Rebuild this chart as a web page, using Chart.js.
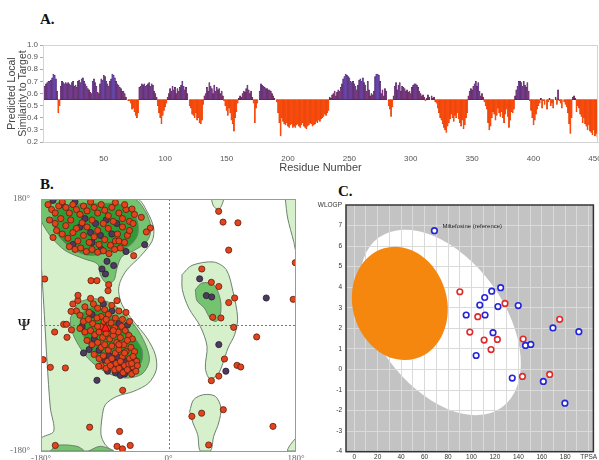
<!DOCTYPE html>
<html><head><meta charset="utf-8">
<script src="https://cdn.jsdelivr.net/npm/chart.js@4.4.0/dist/chart.umd.min.js"></script>
<style>
html,body{margin:0;padding:0;background:#fff;width:599px;height:460px;overflow:hidden;position:relative;}
canvas{position:absolute;}
.lbl{position:absolute;font-family:'Liberation Serif','DejaVu Serif',serif;font-weight:bold;font-size:15px;line-height:15px;color:#111;}
</style></head><body>
<div class="lbl" style="left:40px;top:12px">A.</div>
<div class="lbl" style="left:40px;top:177px">B.</div>
<div class="lbl" style="left:338px;top:184px;font-size:15px;line-height:15px">C.</div>
<canvas id="cA" width="599" height="145" style="left:0;top:30px"></canvas>
<canvas id="cB" width="310" height="285" style="left:0;top:175px"></canvas>
<canvas id="cC" width="289" height="285" style="left:310px;top:175px"></canvas>
<script>
// ---------------- Panel A data ----------------
const simScores = [
0.62,0.66,0.68,0.69,0.70,0.70,0.71,0.73,0.76,0.75,
0.72,0.62,0.44,0.50,0.66,0.70,0.69,0.68,0.69,0.68,
0.69,0.68,0.67,0.69,0.70,0.66,0.67,0.65,0.70,0.71,
0.69,0.72,0.73,0.70,0.68,0.66,0.64,0.63,0.61,0.60,
0.70,0.72,0.69,0.66,0.61,0.60,0.68,0.72,0.71,0.75,
0.74,0.70,0.68,0.66,0.70,0.72,0.76,0.75,0.73,0.70,
0.68,0.67,0.65,0.64,0.62,0.62,0.60,0.57,0.55,0.54,
0.54,0.52,0.47,0.48,0.45,0.42,0.40,0.44,0.65,0.66,
0.68,0.67,0.68,0.66,0.67,0.68,0.69,0.66,0.68,0.67,
0.62,0.60,0.57,0.50,0.44,0.40,0.35,0.42,0.46,0.49,
0.52,0.57,0.60,0.64,0.62,0.66,0.63,0.65,0.60,0.64,
0.62,0.65,0.67,0.70,0.66,0.63,0.65,0.60,0.55,0.50,
0.48,0.43,0.42,0.40,0.44,0.38,0.40,0.36,0.35,0.38,
0.51,0.58,0.60,0.65,0.62,0.69,0.66,0.64,0.60,0.67,
0.62,0.65,0.63,0.64,0.60,0.62,0.58,0.54,0.50,0.46,
0.42,0.48,0.44,0.38,0.35,0.29,0.40,0.45,0.52,0.56,
0.58,0.57,0.60,0.62,0.61,0.64,0.67,0.63,0.60,0.62,
0.57,0.52,0.36,0.48,0.52,0.55,0.62,0.68,0.67,0.66,
0.65,0.64,0.64,0.63,0.63,0.62,0.60,0.58,0.56,0.55,
0.53,0.44,0.36,0.25,0.40,0.37,0.35,0.34,0.36,0.33,
0.32,0.34,0.35,0.32,0.33,0.32,0.34,0.35,0.33,0.32,
0.34,0.36,0.33,0.32,0.31,0.33,0.34,0.36,0.35,0.33,
0.34,0.35,0.37,0.36,0.38,0.37,0.39,0.40,0.41,0.43,
0.42,0.44,0.46,0.57,0.56,0.59,0.60,0.62,0.58,0.61,
0.63,0.62,0.65,0.68,0.72,0.74,0.76,0.75,0.74,0.73,
0.70,0.69,0.70,0.68,0.66,0.63,0.67,0.71,0.72,0.70,
0.73,0.69,0.67,0.62,0.70,0.63,0.58,0.60,0.59,0.62,
0.74,0.76,0.76,0.75,0.70,0.60,0.63,0.58,0.64,0.62,
0.55,0.50,0.47,0.41,0.49,0.58,0.66,0.69,0.63,0.67,
0.69,0.62,0.66,0.65,0.64,0.62,0.63,0.61,0.62,0.60,
0.65,0.67,0.68,0.68,0.67,0.65,0.62,0.60,0.58,0.59,
0.57,0.54,0.56,0.59,0.57,0.55,0.58,0.56,0.57,0.53,
0.52,0.48,0.44,0.40,0.38,0.35,0.32,0.30,0.28,0.33,
0.36,0.39,0.43,0.40,0.37,0.42,0.40,0.44,0.39,0.36,
0.33,0.38,0.31,0.34,0.40,0.44,0.58,0.62,0.64,0.63,
0.66,0.68,0.70,0.66,0.69,0.62,0.58,0.60,0.57,0.53,
0.50,0.47,0.36,0.30,0.33,0.40,0.45,0.43,0.38,0.42,
0.48,0.44,0.41,0.45,0.40,0.36,0.43,0.47,0.41,0.32,
0.38,0.45,0.44,0.47,0.58,0.63,0.66,0.70,0.70,0.69,
0.66,0.70,0.67,0.65,0.69,0.62,0.54,0.46,0.40,0.34,
0.38,0.43,0.47,0.50,0.52,0.56,0.48,0.54,0.51,0.55,
0.47,0.53,0.56,0.50,0.52,0.48,0.55,0.57,0.51,0.63,
0.54,0.52,0.48,0.55,0.53,0.51,0.49,0.44,0.35,0.27,
0.40,0.57,0.58,0.56,0.45,0.50,0.48,0.43,0.41,0.36,
0.40,0.35,0.33,0.30,0.34,0.29,0.28,0.26,0.30,0.25,
0.27,0.24
];
const residues = simScores.map((_, i) => i + 1);
const baselineA = 0.55;
const xTickStepA = 50;

// ---------------- Panel B data (phi, psi) ----------------
const regionLight = [[-180,180],[-44.5,180],[-30.4,162.4],[-20.9,138.6],[-23.3,119.5],[-39.8,98.1],[-58.6,79],[-68,62.4],[-70.4,48.1],[-65.6,29],[-49.2,5.2],[-30.4,-18.6],[-18.6,-42.4],[-17.2,-63.8],[-28,-82.9],[-49.2,-94.8],[-72.7,-101.9],[-89.2,-113.8],[-93.9,-132.9],[-95.3,-156.7],[-90,-170],[-82,-180],[-180,-180],[-180,-162],[-162.1,-151.9],[-166.8,-118.6],[-171.5,-51.9],[-175.3,14.8],[-179,76.7],[-180,88.6],[-180,180]];
const regionLightRight = [[19.1,71.9],[33.2,85.2],[63.8,90],[81.6,79],[91,48.1],[97.6,10],[93.4,-13.8],[84,-32.9],[76.9,-54.3],[69.4,-71],[58.1,-76.7],[52,-61.4],[54.4,-30.5],[44.9,-1.9],[28.5,24.3],[19.5,50.5],[19.1,71.9]];
const regionLightLow = [[29.9,-123.3],[35.5,-106.7],[49.6,-99.5],[66.1,-101.9],[74.1,-118.6],[70.8,-140],[63.8,-159],[59.1,-180],[44.9,-180],[41.2,-156.7],[34.6,-140],[29.9,-123.3]];
const regionLightTop = [[60.5,180],[63.8,169.5],[70.8,164.8],[75.5,171.9],[77,180],[60.5,180]];
const regionLightCornerTR = [[164.9,180],[168.2,152.9],[176.7,119.5],[180,105.2],[180,180],[164.9,180]];
const regionLightCornerBR = [[180,-161.4],[172,-171],[168.2,-180],[180,-180],[180,-161.4]];
const regionMidTop = [[-180,150],[-180,180],[-49,180],[-32.7,162.4],[-24.7,138.6],[-30.4,119.5],[-49.2,106.2],[-65.6,98.1],[-72.7,81.4],[-77.4,63.3],[-87.8,60],[-96.2,71.9],[-100,87.1],[-119.8,94.8],[-145.6,106.2],[-164.5,124.3],[-177.2,143.3],[-180,150]];
const regionMidAlpha = [[-138.6,10],[-126.8,31.4],[-105.6,37.6],[-82.1,31.4],[-60.9,14.8],[-42.1,-9],[-30.4,-32.9],[-27.1,-51.9],[-37.4,-70],[-60.9,-75.7],[-89.2,-67.1],[-114.1,-47.1],[-130.1,-23.3],[-137.6,-4.3],[-138.6,10]];
const regionMidRight = [[37.9,50.5],[47.3,60],[63.8,57.6],[73.2,36.2],[73.2,14.8],[67.5,5.2],[59.1,9],[50.6,24.3],[40.2,34.8],[37.9,50.5]];
const regionMidBottom1 = [[-166.8,-180],[-157.4,-171.9],[-129.2,-173.3],[-119.8,-180],[-166.8,-180]];
const regionMidBottom2 = [[-112.7,-180],[-96.2,-173.3],[-77.4,-180],[-112.7,-180]];
const regionCoreBeta = [[-162.1,162.4],[-143.3,171],[-96.2,173.8],[-63.3,171],[-45.4,152.9],[-43.5,129],[-56.2,112.4],[-82.1,104.3],[-112.7,99.5],[-136.2,109],[-156.5,129],[-163.5,148.1],[-162.1,162.4]];
const regionCoreAlpha = [[-124.1,14.8],[-111.4,24.3],[-93.5,23.3],[-72.7,9],[-51.5,-13.8],[-37.4,-35.2],[-38.8,-54.3],[-52.9,-63.8],[-77.4,-61.4],[-100,-44.8],[-114.1,-25.7],[-124.1,-6.7],[-124.1,14.8]];

const residuesGeneral = [
// beta region
[-170,172],[-165,165],[-160,160],[-155,170],[-150,176],[-145,168],[-140,160],[-135,172],[-130,165],[-125,158],[-120,170],[-115,163],[-110,176],[-105,168],[-100,160],[-95,172],[-90,164],[-85,156],[-80,168],[-75,175],[-70,160],[-65,152],[-60,165],[-55,148],[-168,150],[-160,145],[-152,152],[-145,142],[-138,150],[-130,138],[-122,146],[-115,140],[-108,150],[-100,135],[-92,145],[-85,138],[-78,148],[-72,130],[-65,140],[-58,128],[-150,130],[-142,124],[-135,132],[-128,120],[-120,128],[-112,118],[-105,126],[-98,115],[-90,122],[-82,114],[-75,120],[-68,110],[-140,112],[-132,108],[-124,110],[-116,105],[-108,108],[-100,104],[-92,106],[-84,102],[-76,108],[-70,120],[-62,118],[-55,135],[-50,145],[-48,158],[-158,135],[-163,125],
// alpha region
[-130,20],[-125,14],[-118,26],[-112,18],[-106,30],[-100,24],[-95,12],[-90,22],[-85,15],[-80,28],[-75,10],[-70,20],[-65,8],[-60,18],[-55,5],[-120,5],[-113,8],[-107,2],[-101,10],[-96,-2],[-91,5],[-86,-5],[-81,3],[-76,-4],[-71,-10],[-66,-2],[-61,-8],[-56,-15],[-51,-20],[-125,-5],[-118,-10],[-110,-8],[-104,-14],[-98,-10],[-93,-18],[-88,-12],[-83,-20],[-78,-15],[-73,-25],[-68,-18],[-63,-28],[-58,-22],[-53,-32],[-48,-38],[-115,-22],[-108,-28],[-100,-25],[-95,-32],[-90,-28],[-85,-36],[-80,-30],[-75,-40],[-70,-35],[-65,-45],[-60,-38],[-55,-48],[-50,-45],[-45,-52],[-105,-42],[-98,-48],[-92,-44],[-86,-52],[-80,-48],[-74,-55],[-68,-52],[-62,-58],[-56,-56],[-50,-60],[-44,-58],[-95,-58],[-88,-62],[-82,-58],[-76,-64],[-70,-62],[-64,-68],[-58,-64],[-52,-70],[-46,-66],[-135,30],[-128,35],[-110,38],[-95,36],[-100,-2],[-88,8],[-78,-8],[-70,-28],[-62,-40],[-52,-55],
// scattered
[70.8,162.4],[77,147],[98,146],[85,107],[179,89],[47,80],[60.5,61],[71,55],[85,32],[93.4,38.6],[176,36.7],[62.4,11],[74,10],[92,-3.3],[124.5,-17],[79,-48.6],[96.7,-57.6],[102,-60],[71,-73],[60.5,-79.5],[77.4,-121],[46.8,-126],[33,-130.5],[147.5,-144.8],[56.7,-171.4],
[-174.8,65.7],[-177,-49.5],[-166.8,-60.5],[-160.7,-10],[-148,1],[-144,1],[-143.3,-17.6],[-137,-7],[-137.6,19.5],[-127.8,42.4],[-145.6,-61.4],[-98.6,-59],[-64.7,-93.3],[-111.3,-146],[-69,-152],[-159.8,-172],[-72.7,-173.3],[-65,-177],[-54,-172],[-109.4,63.3],[-101,63.3],[-85.4,49],[-72.7,34.8],[-84.5,57.6],[-49.2,99],[-25.6,138.6],[-31.3,133],[-38.4,153.8],[-51.5,165.7],[-61.9,171.9]
];
const residuesGlyPro = [
[-163,178],[-150,172],[-132,176],[-118,152],[-110,132],[-125,140],[-103,145],[-96,128],[-88,150],[-80,130],[-108,118],[-73,145],[-135,115],[-95,108],[-60,105],
[-122,-2],[-105,-20],[-98,-36],[-90,-50],[-84,-44],[-78,-56],[-72,-46],[-66,-60],[-60,-52],[-54,-62],[-48,-50],[-75,-68],[-68,-72],[-112,-35],[-120,-40],[-108,15],[-92,30],[-80,20],[-58,0],[-70,2],[-62,-70],[-86,-66],[-101,-79],
[44,66],[53.4,42],[61,40],[138,38.6],[71,-28],[81,-66],[-89,73],[-93.9,80],[-77.4,85],[-86.8,91],[-33.6,114.8]
];
const highlightedResidue = [[-89,-5]];
const ramaTicks = [-180, 0, 180];

// ---------------- Panel C data ----------------
const eggBlue = [[68.4,6.75],[111.3,3.50],[117.3,3.81],[124.9,3.98],[107.1,3.13],[122.6,3.06],[139.9,3.11],[95.5,2.65],[111.6,2.65],[118.4,1.79],[104,0.68],[146.1,1.17],[150.6,1.22],[134.8,-0.42],[161.3,-0.58],[179.7,-1.64],[169.5,2.02],[191.6,1.84]];
const eggRed = [[90.1,3.78],[128.6,3.21],[105.4,2.57],[98.6,1.82],[110.8,1.43],[122.1,1.46],[116.7,0.97],[144.1,1.48],[143.5,-0.34],[166.7,-0.24],[175.2,2.44]];
const eggLabels = [{tpsa:68.4, wlogp:6.75, text:'Miltefosine (reference)'}];
// ellipses: [center TPSA, center WLOGP, semi-major, semi-minor (TPSA units), tilt deg]
const hiaEllipse = [73.5, 2.29, 89.4, 54.5, 54];
const bbbEllipse = [38.9, 3.21, 48.9, 40.2, 74];
const tpsaTicks = [0,10,20,30,40,50,60,70,80,90,100,110,120,130,140,150,160,170,180,190,200];

const SANS = "'Liberation Sans', Arial, sans-serif";
const SERIF = "'Liberation Serif', 'DejaVu Serif', serif";
const toXY = arr => arr.map(([x, y]) => ({x, y}));

// ---------------- Chart A ----------------
function barColor(v) {
  if (v < baselineA) return '#ff4a08';
  const t = Math.max(0, Math.min(1, (v - baselineA) / 0.22));
  const r = Math.round(142 - 42 * t), g = Math.round(42 + 30 * t), b = Math.round(95 + 100 * t);
  return `rgb(${r},${g},${b})`;
}
function barBorder(v) {
  return v < baselineA ? '#d83a00' : '#4a2448';
}
const frameA = {
  id: 'frameA',
  afterDraw(chart) {
    const {ctx, chartArea: a} = chart;
    ctx.save(); ctx.strokeStyle = '#d4d4d4'; ctx.lineWidth = 1;
    ctx.strokeRect(a.left + 0.5, a.top + 0.5, a.right - a.left - 1, a.bottom - a.top);
    ctx.restore();
  }
};
new Chart(document.getElementById('cA'), {
  type: 'bar',
  data: {
    labels: residues,
    datasets: [{
      data: simScores.map(v => [baselineA, v]),
      backgroundColor: simScores.map(barColor),
      borderColor: simScores.map(barBorder),
      borderWidth: 0.4,
      borderSkipped: false,
      barPercentage: 1, categoryPercentage: 1
    }]
  },
  options: {
    responsive: false, animation: false, devicePixelRatio: 1,
    layout: {padding: {top: 15, right: 1, left: 7, bottom: 0}},
    plugins: {legend: {display: false}, tooltip: {enabled: false}},
    scales: {
      x: {
        grid: {display: false}, border: {display: true, color: '#d4d4d4'},
        ticks: {autoSkip: false, maxRotation: 0, minRotation: 0, padding: 4, color: '#555', font: {family: SANS, size: 8},
          callback: (v, i) => (residues[i] % xTickStepA === 0 ? String(residues[i]) : null)},
        title: {display: true, text: 'Residue Number', color: '#444', font: {family: SANS, size: 11}, padding: {top: 2, bottom: 0}},
        afterFit: s => { s.height = 33; s.paddingLeft = 0; s.paddingRight = 0; }
      },
      y: {
        min: 0.2, max: 1.0,
        ticks: {stepSize: 0.1, autoSkip: false, padding: 2, color: '#555', font: {family: SANS, size: 8}, callback: v => v.toFixed(1)},
        grid: {drawOnChartArea: false, drawTicks: true, tickLength: 3, color: '#aaa'},
        border: {display: true, color: '#d4d4d4'},
        title: {display: true, text: ['Predicted Local', 'Similarity to Target'], color: '#444', font: {family: SANS, size: 10.5, lineHeight: 1.0}, padding: {top: 0, bottom: 0}},
        afterFit: s => { s.width = 36; s.paddingTop = 0; s.paddingBottom = 0; }
      }
    }
  },
  plugins: [frameA]
});

// ---------------- Chart B ----------------
const LIGHT = '#d6f0cb', MID = '#74c46f', CORE = '#2c9d35', EDGE = '#6f806f';
function region(arr, color, order) {
  return {data: toXY(arr), showLine: true, fill: 'shape', backgroundColor: color, borderColor: EDGE, borderWidth: 1,
    pointRadius: 0, tension: 0.3, order: order};
}
const ramaDecor = {
  id: 'ramaDecor',
  beforeDatasetsDraw(chart) {
    const {ctx, chartArea: a} = chart;
    ctx.save(); ctx.fillStyle = '#fff'; ctx.fillRect(a.left, a.top, a.right - a.left, a.bottom - a.top); ctx.restore();
  },
  afterDraw(chart) {
    const {ctx, chartArea: a, scales} = chart;
    ctx.save();
    ctx.setLineDash([]); ctx.strokeStyle = '#9a9a9a'; ctx.lineWidth = 1;
    ctx.strokeRect(a.left + 0.5, a.top + 0.5, a.right - a.left - 1, a.bottom - a.top);
    ctx.fillStyle = '#111'; ctx.font = '17px ' + SERIF; ctx.textAlign = 'center'; ctx.textBaseline = 'middle';
    ctx.fillText('Ψ', 24, scales.y.getPixelForValue(0) + 1);
    // phi tick labels along the bottom edge
    ctx.fillStyle = '#666'; ctx.font = '9px ' + SERIF; ctx.textBaseline = 'top';
    ramaTicks.forEach(v => ctx.fillText(v + '°', scales.x.getPixelForValue(v), a.bottom + 3));
    ctx.restore();
  }
};
// dashed zero lines drawn between the contour layer and the residues
const ramaZeroLines = {
  id: 'ramaZeroLines',
  afterDatasetDraw(chart, args) {
    if (args.index !== 3) return;
    const {ctx, chartArea: a, scales} = chart;
    ctx.save();
    ctx.strokeStyle = '#777'; ctx.lineWidth = 1; ctx.setLineDash([2, 2]);
    const x0 = Math.round(scales.x.getPixelForValue(0)) + 0.5, y0 = Math.round(scales.y.getPixelForValue(0)) + 0.5;
    ctx.beginPath(); ctx.moveTo(x0, a.top); ctx.lineTo(x0, a.bottom); ctx.moveTo(a.left, y0); ctx.lineTo(a.right, y0); ctx.stroke();
    ctx.restore();
  }
};
new Chart(document.getElementById('cB'), {
  type: 'scatter',
  data: {
    datasets: [
      {data: toXY(highlightedResidue), pointStyle: 'triangle', pointRadius: 5, backgroundColor: '#ff1e1e', borderColor: '#a00000', borderWidth: 1, order: 0},
      {data: toXY(residuesGeneral), pointRadius: 3.1, backgroundColor: '#e3441d', borderColor: '#5a2010', borderWidth: 0.8, order: 1},
      {data: toXY(residuesGlyPro), pointRadius: 3.1, backgroundColor: '#4d3a5e', borderColor: '#2a1f33', borderWidth: 0.8, order: 2},
      region(regionCoreBeta, CORE, 3), region(regionCoreAlpha, CORE, 4),
      region(regionMidTop, MID, 5), region(regionMidAlpha, MID, 6), region(regionMidRight, MID, 7), region(regionMidBottom1, MID, 8), region(regionMidBottom2, MID, 9),
      region(regionLight, LIGHT, 10), region(regionLightRight, LIGHT, 11), region(regionLightLow, LIGHT, 12), region(regionLightTop, LIGHT, 13),
      region(regionLightCornerTR, LIGHT, 14), region(regionLightCornerBR, LIGHT, 15)
    ]
  },
  options: {
    responsive: false, animation: false, devicePixelRatio: 1,
    layout: {padding: {top: 24, right: 14, left: 0, bottom: 0}},
    plugins: {legend: {display: false}, tooltip: {enabled: false}},
    scales: {
      x: {min: -180, max: 180, grid: {display: false}, border: {display: false},
        afterBuildTicks: s => { s.ticks = ramaTicks.map(v => ({value: v})); },
        ticks: {display: false},
        afterFit: s => { s.height = 9; s.paddingLeft = 0; s.paddingRight = 0; }},
      y: {min: -180, max: 180, grid: {display: false}, border: {display: false},
        afterBuildTicks: s => { s.ticks = ramaTicks.map(v => ({value: v})); },
        ticks: {padding: 3, color: '#666', font: {family: SERIF, size: 9}, callback: v => v + '°'},
        afterFit: s => { s.width = 41; s.paddingTop = 0; s.paddingBottom = 0; }}
    }
  },
  plugins: [ramaDecor, ramaZeroLines]
});

// ---------------- Chart C ----------------
function drawEllipse(chart, e, color) {
  const {ctx, scales} = chart;
  const [cx, cy, a, b, deg] = e;
  const px = Math.abs(scales.x.getPixelForValue(1) - scales.x.getPixelForValue(0));
  ctx.save();
  ctx.fillStyle = color;
  ctx.beginPath();
  ctx.ellipse(scales.x.getPixelForValue(cx), scales.y.getPixelForValue(cy), a * px, b * px, deg * Math.PI / 180, 0, Math.PI * 2);
  ctx.fill();
  ctx.restore();
}
const eggDecor = {
  id: 'eggDecor',
  beforeDraw(chart) {
    const {ctx, chartArea: a} = chart;
    ctx.save(); ctx.fillStyle = '#c3c3c3'; ctx.fillRect(a.left, a.top, a.right - a.left, a.bottom - a.top); ctx.restore();
    ctx.save(); ctx.beginPath(); ctx.rect(a.left, a.top, a.right - a.left, a.bottom - a.top); ctx.clip();
    drawEllipse(chart, hiaEllipse, '#ffffff');
    ctx.restore();
  },
  beforeDatasetsDraw(chart) {
    drawEllipse(chart, bbbEllipse, '#f5870e');
  },
  afterDatasetsDraw(chart) {
    const {ctx, chartArea: a, scales} = chart;
    ctx.save();
    ctx.strokeStyle = '#333'; ctx.lineWidth = 1.5;
    ctx.strokeRect(a.left, a.top, a.right - a.left, a.bottom - a.top);
    ctx.fillStyle = '#222'; ctx.font = '6px ' + SANS; ctx.textAlign = 'left'; ctx.textBaseline = 'middle';
    eggLabels.forEach(l => ctx.fillText(l.text, scales.x.getPixelForValue(l.tpsa) + 8, scales.y.getPixelForValue(l.wlogp) - 4));
    ctx.restore();
  }
};
new Chart(document.getElementById('cC'), {
  type: 'scatter',
  data: {
    datasets: [
      {data: toXY(eggBlue), pointRadius: 2.8, backgroundColor: '#ffffff', borderColor: '#2424d8', borderWidth: 1.6},
      {data: toXY(eggRed), pointRadius: 2.8, backgroundColor: '#ffffff', borderColor: '#e02a2a', borderWidth: 1.6}
    ]
  },
  options: {
    responsive: false, animation: false, devicePixelRatio: 1,
    layout: {padding: {top: 30, right: 5, left: 0, bottom: 0}},
    plugins: {legend: {display: false}, tooltip: {enabled: false}},
    scales: {
      x: {min: -7, max: 204,
        afterBuildTicks: s => { s.ticks = tpsaTicks.map(v => ({value: v})); },
        grid: {color: '#dadada', drawTicks: false, lineWidth: 1}, border: {display: false},
        ticks: {padding: 2, color: '#333', font: {family: SANS, size: 6.5}, maxRotation: 0, autoSkip: false,
          callback: v => (v === 200 ? 'TPSA' : (v % 20 === 0 ? String(v) : ''))},
        afterFit: s => { s.height = 8.3; s.paddingLeft = 0; s.paddingRight = 0; }},
      y: {min: -4, max: 8,
        ticks: {stepSize: 1, autoSkip: false, padding: 4, color: '#333', font: {family: SANS, size: 6.5}, callback: v => (v === 8 ? 'WLOGP' : String(v))},
        grid: {color: '#dadada', drawTicks: false, lineWidth: 1}, border: {display: false},
        afterFit: s => { s.width = 36; s.paddingTop = 0; s.paddingBottom = 0; }}
    }
  },
  plugins: [eggDecor]
});
</script>
</body></html>
